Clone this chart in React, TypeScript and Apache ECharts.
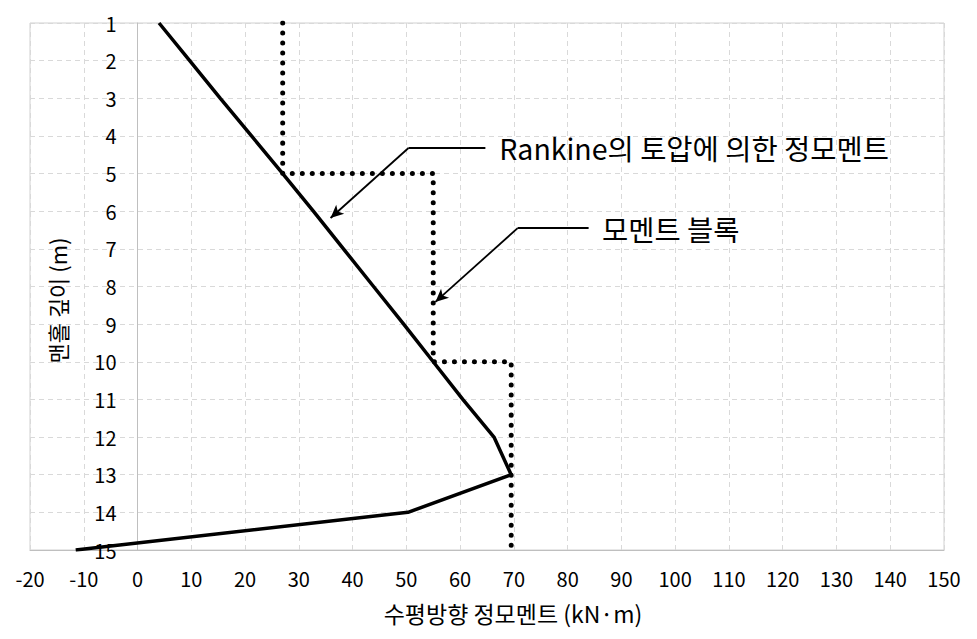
import React, { useEffect, useRef } from "react";
import * as echarts from "echarts";

const depths = [1, 2, 3, 4, 5, 6, 7, 8, 9, 10, 11, 12, 13, 14, 15];
const rankineMoment = [4, 9.7, 15.4, 21.2, 27, 32.7, 38.3, 43.9, 49.5, 55, 60.5, 66.3, 69.5, 50.3, -11.5];
const blockDepth = [1, 5, 5, 10, 10, 15];
const blockMoment = [27, 27, 55, 55, 69.5, 69.5];
const xTicks = { min: -20, max: 150, interval: 10 };
const yTicks = { min: 1, max: 15, interval: 1 };

const rankineLabel = "Rankine의 토압에 의한 정모멘트";
const blockLabel = "모멘트 블록";
// annotation anchors in data coordinates [moment, depth]
const rankineText = [67.3, 4.32];
const rankineLeader = [[64.7, 4.32], [50.4, 4.32], [35.9, 6.18]];
const blockText = [86.4, 6.45];
const blockLeader = [[83.9, 6.45], [70.7, 6.45], [55.4, 8.41]];

const FONT = "'Noto Sans CJK KR', 'Noto Sans', sans-serif";
const W = 977;
const H = 639;
const GRID = { left: 30, right: 33, top: 23, bottom: 89 };

export default function App() {
  const ref = useRef<HTMLDivElement>(null);
  useEffect(() => {
    if (!ref.current) return;
    const chart = echarts.init(ref.current, null, { renderer: "svg" });
    const plotW = W - GRID.left - GRID.right;
    // place the depth axis at moment = 0
    const yAxisOffset = -((0 - xTicks.min) / (xTicks.max - xTicks.min)) * plotW;
    const leader = (pts: number[][]) => [
      [
        { coord: pts[0], symbol: "none" },
        { coord: pts[1], symbol: "none" },
      ],
      [
        { coord: pts[1], symbol: "none" },
        { coord: pts[2], symbol: "arrow", symbolSize: [9, 13] },
      ],
    ];
    chart.setOption({
      animation: false,
      backgroundColor: "#ffffff",
      textStyle: { fontFamily: FONT },
      grid: {
        ...GRID,
        outerBoundsMode: "none",
        containLabel: false,
        show: true,
        borderColor: "#d0d0d0",
        borderWidth: 1,
      },
      xAxis: {
        type: "value",
        min: xTicks.min,
        max: xTicks.max,
        interval: xTicks.interval,
        name: "수평방향 정모멘트 (kN·m)",
        nameLocation: "middle",
        nameGap: 51,
        nameTextStyle: { fontSize: 23, color: "#000", fontFamily: FONT, padding: [0, 0, 0, 52] },
        axisLine: { show: true, onZero: false, lineStyle: { color: "#bfbfbf", width: 1 } },
        axisTick: { show: false },
        axisLabel: { fontSize: 20, color: "#000", margin: 18, fontFamily: FONT },
        splitLine: { show: true, lineStyle: { color: "#d9d9d9", type: [5, 4], width: 1 } },
      },
      yAxis: {
        type: "value",
        inverse: true,
        min: yTicks.min,
        max: yTicks.max,
        interval: yTicks.interval,
        offset: yAxisOffset,
        name: "맨홀 깊이 (m)",
        nameLocation: "middle",
        nameGap: 70,
        nameRotate: 90,
        nameTextStyle: { fontSize: 22, color: "#000", fontFamily: FONT, padding: [0, 28, 0, 0] },
        axisLine: { show: true, onZero: false, lineStyle: { color: "#bfbfbf", width: 1 } },
        axisTick: { show: false },
        axisLabel: { fontSize: 20, color: "#000", margin: 21, fontFamily: FONT },
        splitLine: { show: true, lineStyle: { color: "#d9d9d9", type: [5, 4], width: 1 } },
      },
      series: [
        {
          name: "Rankine",
          type: "line",
          data: depths.map((d, i) => [rankineMoment[i], d]),
          showSymbol: false,
          symbol: "none",
          lineStyle: { color: "#000", width: 3.5 },
          z: 3,
        },
        {
          name: "모멘트 블록",
          type: "line",
          data: blockDepth.map((d, i) => [blockMoment[i], d]),
          showSymbol: false,
          symbol: "none",
          lineStyle: { color: "#000", width: 5, type: [0.01, 10], cap: "round" },
          z: 2,
        },
        {
          name: "annotations",
          type: "line",
          data: [],
          markLine: {
            silent: true,
            animation: false,
            label: { show: false },
            lineStyle: { color: "#000", width: 1.8, type: "solid" },
            data: [...leader(rankineLeader), ...leader(blockLeader)],
          },
          markPoint: {
            silent: true,
            symbol: "circle",
            symbolSize: 0,
            label: {
              show: true,
              position: "right",
              distance: 0,
              color: "#000",
              fontSize: 28.5,
              fontFamily: FONT,
              formatter: (p: any) => p.name,
            },
            data: [
              { name: rankineLabel, coord: rankineText },
              { name: blockLabel, coord: blockText },
            ],
          },
        },
      ],
    });
    return () => chart.dispose();
  }, []);
  return (
    <div
      ref={ref}
      style={{ position: "fixed", left: 0, top: 0, width: W, height: H, background: "#fff" }}
    />
  );
}
